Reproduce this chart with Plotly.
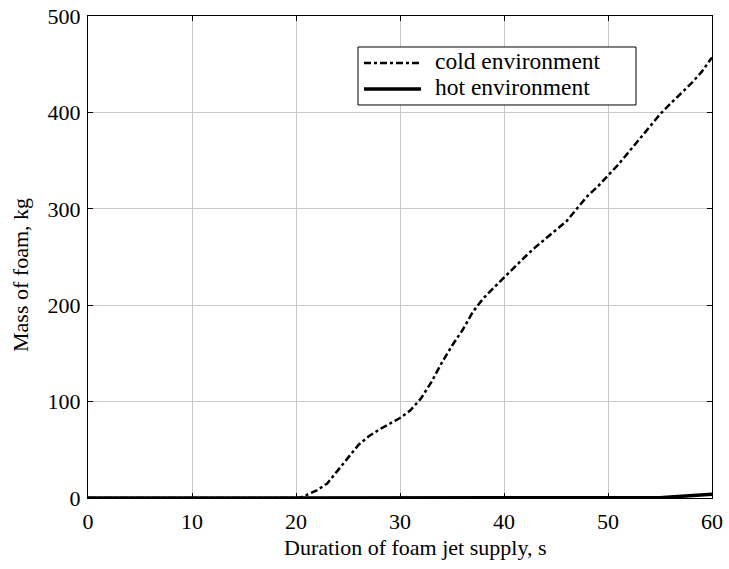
import plotly.graph_objects as go

time_s = [0, 5, 10, 15, 20, 20.3, 21, 22, 23, 24, 25, 26, 27, 28, 29, 30, 31, 32, 33, 34, 35,
          36, 37, 38, 39, 40, 41, 42, 43, 44, 45, 46, 47, 48, 49, 50, 51, 52, 53,
          54, 55, 56, 57, 58, 59, 60]
cold_mass = [0, 0, 0, 0, 0, 0, 3, 8, 15, 28, 42, 55, 64, 71, 77, 83, 91, 103, 120, 140, 158,
             174, 193, 207, 218, 229, 240, 250, 260, 269, 278, 287, 300, 313, 323, 334, 346,
             359, 372, 385, 398, 409, 419, 430, 442, 457]
hot_time = [0, 10, 20, 30, 40, 50, 54, 55, 56, 57, 58, 59, 60]
hot_mass = [0, 0, 0, 0, 0, 0, 0, 0.3, 1, 1.8, 2.6, 3.4, 4]

x_ticks = [0, 10, 20, 30, 40, 50, 60]
y_ticks = [0, 100, 200, 300, 400, 500]
series_names = ["cold environment", "hot environment"]

FONT = "Liberation Serif, Times New Roman, serif"
COLD_DASH = "7px,3px,3px,3px"

fig = go.Figure()
fig.add_trace(go.Scatter(x=hot_time, y=hot_mass, mode="lines", name=series_names[1],
                         line=dict(color="black", width=3.5), showlegend=False))
fig.add_trace(go.Scatter(x=time_s, y=cold_mass, mode="lines", name=series_names[0],
                         line=dict(color="black", width=2.5, dash=COLD_DASH),
                         showlegend=False))

axis_common = dict(showgrid=True, gridcolor="#c8c8c8", gridwidth=1,
                   showline=True, linecolor="black", linewidth=1, mirror="ticks",
                   ticks="inside", ticklen=5, tickcolor="black",
                   tickfont=dict(family=FONT, size=22, color="black"),
                   zeroline=False, automargin=False)

# legend drawn as box + sample lines + labels (paper coordinates)
box = dict(x0=0.4327, x1=0.8782, y0=0.8154, y1=0.9357)
rows_y = [0.9025, 0.8485]
sample_x = [0.4423, 0.5337]
label_x = 0.5529

shapes = [dict(type="rect", xref="paper", yref="paper", layer="above",
               line=dict(color="black", width=1), fillcolor="white", **box),
          dict(type="line", xref="paper", yref="paper", layer="above",
               x0=sample_x[0], x1=sample_x[1], y0=rows_y[0], y1=rows_y[0],
               line=dict(color="black", width=2.5, dash=COLD_DASH)),
          dict(type="line", xref="paper", yref="paper", layer="above",
               x0=sample_x[0], x1=sample_x[1], y0=rows_y[1], y1=rows_y[1],
               line=dict(color="black", width=3.5))]

annotations = [dict(text=series_names[i], xref="paper", yref="paper", x=label_x, y=rows_y[i] + 0.004,
                    xanchor="left", yanchor="middle", showarrow=False,
                    font=dict(family=FONT, size=23.5, color="black"))
               for i in range(2)]
annotations.append(dict(text="Duration of foam jet supply, s", xref="paper", yref="paper",
                        x=0.525, y=-0.1017, xanchor="center", yanchor="middle", showarrow=False,
                        font=dict(family=FONT, size=22, color="black")))
annotations.append(dict(text="Mass of foam, kg", xref="paper", yref="paper",
                        x=-0.1074, y=0.4627, xanchor="center", yanchor="middle", showarrow=False,
                        textangle=-90, font=dict(family=FONT, size=22, color="black")))

fig.update_layout(
    width=729, height=569,
    margin=dict(l=88, r=17, t=16, b=71),
    paper_bgcolor="white", plot_bgcolor="white",
    font=dict(family=FONT, size=22, color="black"),
    showlegend=False,
    xaxis=dict(range=[0, 60], tickvals=x_ticks, ticklabelstandoff=4, **axis_common),
    yaxis=dict(range=[0, 500], tickvals=y_ticks, ticklabelstandoff=2, **axis_common),
    shapes=shapes,
    annotations=annotations,
)

fig.write_html("out.html", config={"displayModeBar": False},
               post_script="document.body.style.margin='0';")
